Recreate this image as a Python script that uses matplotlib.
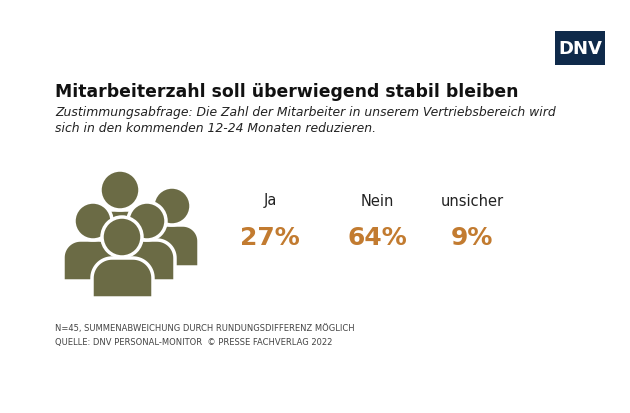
import numpy as np
import matplotlib
matplotlib.use("Agg")
import matplotlib.pyplot as plt
from matplotlib.patches import Circle, Polygon, Rectangle

labels = ["Ja", "Nein", "unsicher"]
values = [27, 64, 9]
label_x = [270, 377, 472]

TITLE = "Mitarbeiterzahl soll überwiegend stabil bleiben"
SUB = ("Zustimmungsabfrage: Die Zahl der Mitarbeiter in unserem Vertriebsbereich wird\n"
       "sich in den kommenden 12-24 Monaten reduzieren.")
FOOT = ["N=45, SUMMENABWEICHUNG DURCH RUNDUNGSDIFFERENZ MÖGLICH",
        "QUELLE: DNV PERSONAL-MONITOR  © PRESSE FACHVERLAG 2022"]

GREEN = "#6b6b45"
ORANGE = "#c27b30"

fig = plt.figure(figsize=(6.3, 4.13), dpi=100)
ax = fig.add_axes([0, 0, 1, 1])
ax.set_xlim(0, 630)
ax.set_ylim(413, 0)
ax.axis("off")


def body(x0, x1, ytop, ybot, r):
    t = np.linspace(0, np.pi / 2, 20)
    left = np.c_[x0 + r - r * np.cos(t), ytop + r - r * np.sin(t)]
    right = np.c_[x1 - r + r * np.sin(t), ytop + r - r * np.cos(t)]
    pts = np.vstack([[x0, ybot], left, right, [x1, ybot]])
    return Polygon(pts, closed=True, fc=GREEN, ec="white", lw=2.5)


def person(cx, cy, r, bx0, bx1, btop, bbot):
    ax.add_patch(body(bx0, bx1, btop, bbot, (bx1 - bx0) * 0.33))
    ax.add_patch(Circle((cx, cy), r, fc=GREEN, ec="white", lw=2.5))


person(120, 190, 20, 95, 145, 210, 250)     # back center
person(172, 206, 19, 150, 199, 225, 267)    # back right
person(93, 221, 19, 63, 116, 240, 281)      # left
person(147, 221, 19, 120, 175, 240, 281)    # middle right
person(122, 237, 20, 92, 153, 258, 298)     # front

# logo
ax.add_patch(Rectangle((555, 31), 50, 34, fc="#0f2a4a", ec="none"))
ax.text(580, 49, "DNV", color="white", fontsize=13, fontweight="bold",
        ha="center", va="center")

ax.text(55, 92, TITLE, fontsize=12.4, fontweight="bold", va="center", color="#111111")
ax.text(55, 106, SUB, fontsize=8.9, style="italic", va="top", color="#222222",
        linespacing=1.3)

for x, lab, v in zip(label_x, labels, values):
    ax.text(x, 201, lab, fontsize=10.5, ha="center", va="center", color="#222222")
    ax.text(x, 238, f"{v}%", fontsize=18, fontweight="bold", ha="center", va="center",
            color=ORANGE)

ax.text(55, 329, FOOT[0], fontsize=6.0, va="center", color="#444444")
ax.text(55, 342, FOOT[1], fontsize=6.0, va="center", color="#444444")

fig.savefig("out.png", dpi=100)
